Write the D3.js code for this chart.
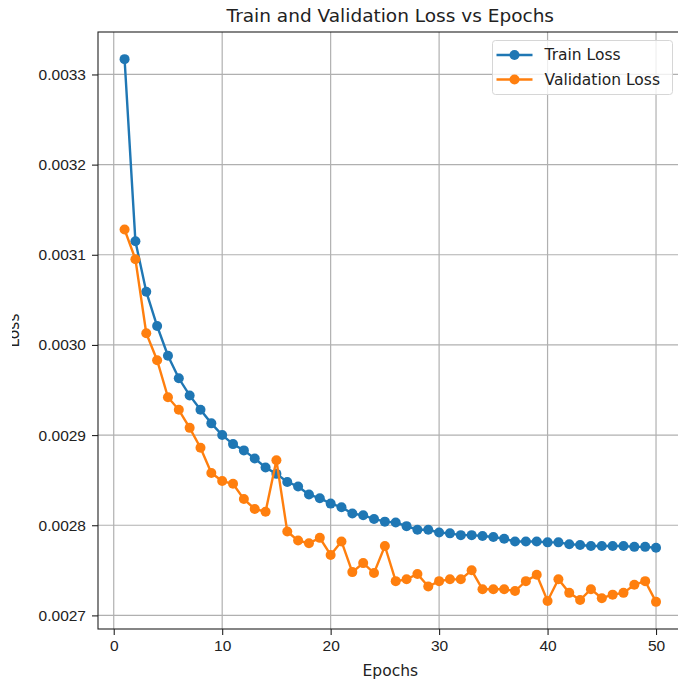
<!DOCTYPE html>
<html>
<head>
<meta charset="utf-8">
<style>
  body { margin: 0; background: #fff; }
  svg { display: block; font-family: "DejaVu Sans", sans-serif; }
  .axis .domain { display: none; }
  .axis text { font-size: 15.5px; fill: #222; }
  .axis line { stroke: #222; }
</style>
</head>
<body>
<svg width="678" height="680"></svg>
<script src="https://cdnjs.cloudflare.com/ajax/libs/d3/7.8.5/d3.min.js"></script>
<script>
  var epochs = [1, 2, 3, 4, 5, 6, 7, 8, 9, 10, 11, 12, 13, 14, 15, 16, 17, 18, 19, 20,
    21, 22, 23, 24, 25, 26, 27, 28, 29, 30, 31, 32, 33, 34, 35, 36, 37, 38, 39, 40,
    41, 42, 43, 44, 45, 46, 47, 48, 49, 50];
  var trainLoss = [0.003317, 0.003115, 0.003059, 0.003021, 0.002988, 0.002963, 0.002944, 0.002928, 0.002913, 0.002900,
    0.002890, 0.002883, 0.002874, 0.002864, 0.002857, 0.002848, 0.002843, 0.002834, 0.002830, 0.002824,
    0.002820, 0.002813, 0.002811, 0.002807, 0.002804, 0.002803, 0.002799, 0.002795, 0.002795, 0.002792,
    0.002791, 0.002789, 0.002789, 0.002788, 0.002787, 0.002785, 0.002782, 0.002782, 0.002782, 0.002781,
    0.002781, 0.002779, 0.002778, 0.002777, 0.002777, 0.002777, 0.002777, 0.002776, 0.002776, 0.002775];
  var valLoss = [0.003128, 0.003095, 0.003013, 0.002983, 0.002942, 0.002928, 0.002908, 0.002886, 0.002858, 0.002849,
    0.002846, 0.002829, 0.002818, 0.002815, 0.002872, 0.002793, 0.002783, 0.002780, 0.002786, 0.002767,
    0.002782, 0.002748, 0.002758, 0.002747, 0.002777, 0.002738, 0.002740, 0.002746, 0.002732, 0.002738,
    0.002740, 0.002740, 0.002750, 0.002729, 0.002729, 0.002729, 0.002727, 0.002738, 0.002745, 0.002716,
    0.002740, 0.002725, 0.002717, 0.002729, 0.002719, 0.002723, 0.002725, 0.002734, 0.002738, 0.002715];
  var xTicks = [0, 10, 20, 30, 40, 50];
  var yTicks = [0.0027, 0.0028, 0.0029, 0.0030, 0.0031, 0.0032, 0.0033];
  var seriesNames = ["Train Loss", "Validation Loss"];
  var seriesColors = ["#1f77b4", "#ff7f0e"];

  var svg = d3.select("svg");
  var plotLeft = 98, plotRight = 682.6, plotTop = 32, plotBottom = 629;

  // matplotlib style 5% margins
  var xMin = d3.min(epochs), xMax = d3.max(epochs), xPad = (xMax - xMin) * 0.05;
  var allLoss = trainLoss.concat(valLoss);
  var yMin = d3.min(allLoss), yMax = d3.max(allLoss), yPad = (yMax - yMin) * 0.05;

  var x = d3.scaleLinear().domain([xMin - xPad, xMax + xPad]).range([plotLeft, plotRight]);
  var y = d3.scaleLinear().domain([yMin - yPad, yMax + yPad]).range([plotBottom, plotTop]);

  // grid
  var grid = svg.append("g").attr("stroke", "#b0b0b0").attr("stroke-width", 1.2);
  grid.selectAll(".gx").data(xTicks).enter().append("line")
    .attr("x1", function(d) { return x(d); }).attr("x2", function(d) { return x(d); })
    .attr("y1", plotTop).attr("y2", plotBottom);
  grid.selectAll(".gy").data(yTicks).enter().append("line")
    .attr("x1", plotLeft).attr("x2", plotRight)
    .attr("y1", function(d) { return y(d); }).attr("y2", function(d) { return y(d); });

  // axes
  svg.append("g")
    .attr("class", "axis")
    .attr("transform", "translate(0," + plotBottom + ")")
    .call(d3.axisBottom(x).tickValues(xTicks).tickSize(6).tickPadding(5).tickFormat(d3.format("d")))
    .selectAll("line").attr("stroke-width", 1.1);
  svg.append("g")
    .attr("class", "axis")
    .attr("transform", "translate(" + plotLeft + ",0)")
    .call(d3.axisLeft(y).tickValues(yTicks).tickSize(6).tickPadding(6).tickFormat(d3.format(".4f")))
    .selectAll("line").attr("stroke-width", 1.1);

  // spines
  svg.append("rect")
    .attr("x", plotLeft).attr("y", plotTop)
    .attr("width", plotRight - plotLeft).attr("height", plotBottom - plotTop)
    .attr("fill", "none").attr("stroke", "#222").attr("stroke-width", 1.1);

  // series
  var series = [trainLoss, valLoss];
  var line = d3.line()
    .x(function(d, i) { return x(epochs[i]); })
    .y(function(d) { return y(d); });
  series.forEach(function(vals, s) {
    var g = svg.append("g");
    g.append("path")
      .datum(vals)
      .attr("fill", "none")
      .attr("stroke", seriesColors[s])
      .attr("stroke-width", 2.4)
      .attr("d", line);
    g.selectAll("circle").data(vals).enter().append("circle")
      .attr("cx", function(d, i) { return x(epochs[i]); })
      .attr("cy", function(d) { return y(d); })
      .attr("r", 5)
      .attr("fill", seriesColors[s]);
  });

  // title and labels
  svg.append("text")
    .attr("x", (plotLeft + plotRight) / 2).attr("y", 22)
    .attr("text-anchor", "middle")
    .attr("font-size", 18.5).attr("fill", "#222")
    .text("Train and Validation Loss vs Epochs");
  svg.append("text")
    .attr("x", (plotLeft + plotRight) / 2).attr("y", 676)
    .attr("text-anchor", "middle")
    .attr("font-size", 15.5).attr("fill", "#222")
    .text("Epochs");

  // y label is cut at the left edge in the original picture
  svg.append("clipPath").attr("id", "ylabclip")
    .append("rect").attr("x", 12).attr("y", 0).attr("width", 100).attr("height", 680);
  svg.append("g")
    .attr("clip-path", "url(#ylabclip)")
    .append("text")
    .attr("transform", "translate(19," + (plotTop + plotBottom) / 2 + ") rotate(-90)")
    .attr("text-anchor", "middle")
    .attr("font-size", 15.5).attr("fill", "#222")
    .text("Loss");

  // legend
  var legend = svg.append("g").attr("transform", "translate(492.5,40.5)");
  legend.append("rect")
    .attr("width", 180).attr("height", 54)
    .attr("rx", 3)
    .attr("fill", "#fff").attr("fill-opacity", 0.8)
    .attr("stroke", "#d6d6d6");
  var items = legend.selectAll(".item").data(seriesNames).enter().append("g")
    .attr("transform", function(d, i) { return "translate(0," + (14.5 + i * 24.5) + ")"; });
  items.append("line")
    .attr("x1", 4).attr("x2", 40)
    .attr("stroke", function(d, i) { return seriesColors[i]; })
    .attr("stroke-width", 2.4);
  items.append("circle")
    .attr("cx", 22).attr("r", 5)
    .attr("fill", function(d, i) { return seriesColors[i]; });
  items.append("text")
    .attr("x", 52).attr("dy", "0.35em")
    .attr("font-size", 15.5).attr("fill", "#222")
    .text(function(d) { return d; });
</script>
</body>
</html>
